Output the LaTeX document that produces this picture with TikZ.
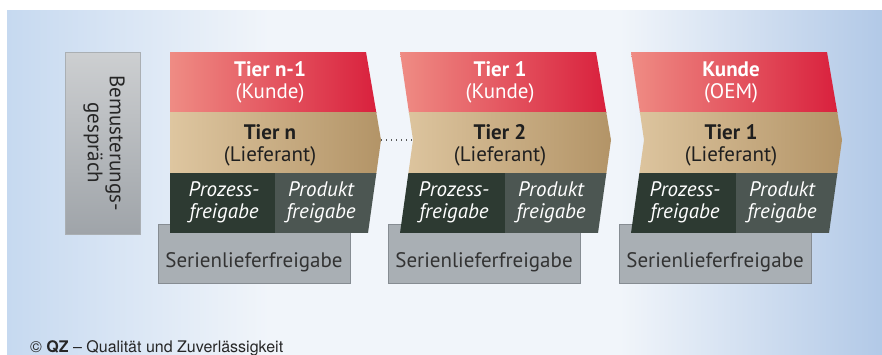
\documentclass[tikz,border=0pt]{standalone}
\usepackage{fontspec}
\setmainfont{PT Sans}
\newfontfamily\qzfont{TeX Gyre Heros}
\definecolor{bgL}{HTML}{C6D9F0}
\definecolor{bgM}{HTML}{F1F5FA}
\definecolor{bgR}{HTML}{B2C9E7}
\definecolor{redL}{HTML}{EF8C84}
\definecolor{redM}{HTML}{EB7679}
\definecolor{redR}{HTML}{D81C3A}
\definecolor{tanL}{HTML}{DEC6A0}
\definecolor{tanR}{HTML}{B29366}
\definecolor{darkA}{HTML}{2D3A32}
\definecolor{darkB}{HTML}{4C5652}
\definecolor{greybox}{HTML}{A9AFB4}
\definecolor{greyedge}{HTML}{868C92}
\definecolor{bemT}{HTML}{CDCFD1}
\definecolor{bemB}{HTML}{9FA4A9}
\pgfdeclarehorizontalshading{bgshade}{100bp}{color(0bp)=(bgL); color(25bp)=(bgL); color(40bp)=(bgM); color(60bp)=(bgM); color(75bp)=(bgR); color(100bp)=(bgR)}
\tikzset{
  lab/.style={align=center, inner sep=0pt, font=\fontsize{21}{22}\selectfont},
  toplab/.style={lab, text=white},
  midlab/.style={lab, text=black!88},
  frlab/.style={lab, text=white, font=\fontsize{21}{22}\selectfont\itshape},
  serietext/.style={lab, text=black!80},
}
\newcommand\tierblock[5]{
\fill[greybox, draw=greyedge] (#1-12,224) rectangle ++(192,59);
\node[serietext] (#3s) at (#1+84,262) {Serienlieferfreigabe};
\begin{scope}
\clip (#1,52) -- (#1+196,52) -- (#1+211,140) -- (#1+198,233) -- (#1,233) -- (#1+#2,140) -- cycle;
\shade[left color=redL, middle color=redM, right color=redR] (#1,52) rectangle (#1+215,112);
\shade[left color=tanL, right color=tanR] (#1,112) rectangle (#1+215,173);
\fill[darkA] (#1,173) rectangle (#1+105,233);
\fill[darkB] (#1+105,173) rectangle (#1+215,233);
\end{scope}
\coordinate (#3tip) at (#1+211,140);
\coordinate (#3notch) at (#1+#2,140);
\node[toplab] (#3a) at (#1+100,82) {#4};
\node[midlab] (#3b) at (#1+100,145) {#5};
\node[frlab] (#3c) at (#1+54,202) {Prozess-\\freigabe};
\node[frlab] (#3d) at (#1+151,202) {Produkt\\freigabe};
}

\begin{document}
\begin{tikzpicture}[x=1pt, y=-1pt]
\useasboundingbox (0,0) rectangle (882,354);
\shade[shading=bgshade] (7,10) rectangle (882,354);
\shade[top color=bemT, bottom color=bemB, draw=greyedge!70] (65,52) rectangle (140,234);
\node[lab, rotate=-90, text=black!85] (bem) at (104,143) {Bemusterungs-\\gespräch};
\tierblock{170}{0}{t}{{\bfseries Tier n-1}\\(Kunde)}{{\bfseries Tier n}\\(Lieferant)}
\tierblock{400}{13}{u}{{\bfseries Tier 1}\\(Kunde)}{{\bfseries Tier 2}\\(Lieferant)}
\tierblock{631}{13}{v}{{\bfseries Kunde}\\(OEM)}{{\bfseries Tier 1}\\(Lieferant)}
\draw[black!65, line width=1.4pt, dash pattern=on 1.4pt off 3.6pt] (ttip) -- (unotch);
\node[anchor=base west, inner sep=0pt, font=\qzfont\fontsize{16}{18}\selectfont, text=black!85] (qz) at (30,352) {\textcopyright{} \textbf{QZ} – Qualität und Zuverlässigkeit};
\end{tikzpicture}
\end{document}
